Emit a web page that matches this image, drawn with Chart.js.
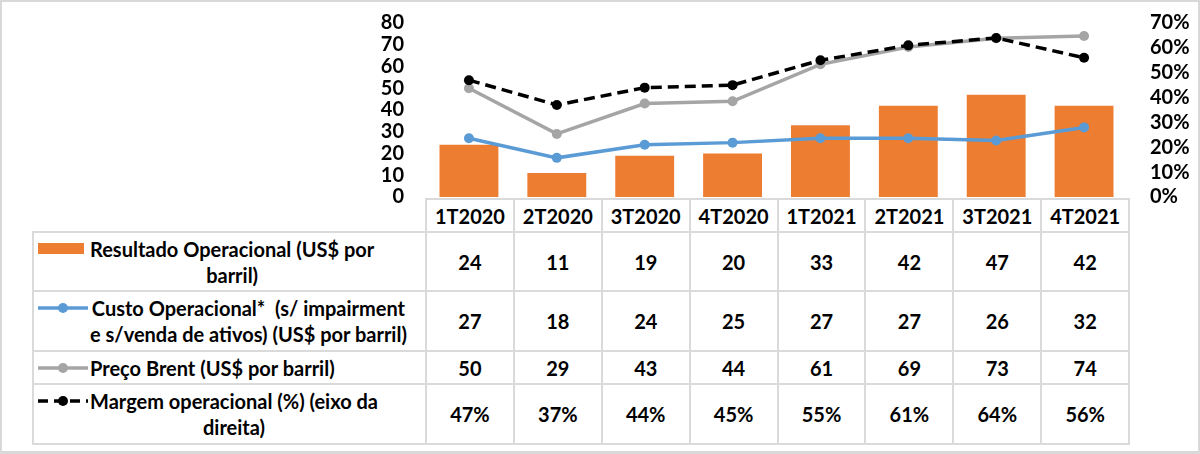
<!DOCTYPE html>
<html>
<head>
<meta charset="utf-8">
<script src="https://cdn.jsdelivr.net/npm/chart.js@4.4.1/dist/chart.umd.min.js"></script>
<style>
  body { margin: 0; background: #fff; }
  #frame { position: relative; width: 1200px; height: 454px; overflow: hidden; font-family: Lato, sans-serif; font-weight: bold; color: #000; }
  #frame::after { content: ""; position: absolute; left: 0; top: 0; right: 0; bottom: 0; border: 2px solid #d9d9d9; border-bottom-width: 3px; pointer-events: none; }
  #chart { position: absolute; left: 0; top: 0; }
  #data-table { position: absolute; left: 32px; top: 198px; border-collapse: collapse; table-layout: fixed; font-size: 20px; }
  #data-table td, #data-table th { border: 2px solid #dadada; text-align: center; padding: 0; }
  #data-table th.blank { border: none; }
  #data-table th { height: 31px; font-weight: bold; font-size: 20px; }
  .label { display: flex; align-items: flex-start; padding-left: 4px !important; }
  .key { flex: 0 0 52px; height: 26px; display: flex; align-items: center; }
  .txt { display: inline-block; white-space: pre; line-height: 26px; text-align: center; }
</style>
</head>
<body>
<div id="frame">
  <table id="data-table"></table>
  <canvas id="chart" width="1200" height="454"></canvas>
</div>
<script>
"use strict"

// categories (quarters)
const quarters = ["1T2020", "2T2020", "3T2020", "4T2020", "1T2021", "2T2021", "3T2021", "4T2021"];

// series values
const resultado = [24, 11, 19, 20, 33, 42, 47, 42];
const custo = [27, 18, 24, 25, 27, 27, 26, 32];
const brent = [50, 29, 43, 44, 61, 69, 73, 74];
const margem = [0.47, 0.37, 0.44, 0.45, 0.55, 0.61, 0.64, 0.56];

// series names, as they wrap in the table
const seriesNames = [
  "Resultado Operacional (US$ por\nbarril)",
  "Custo Operacional*  (s/ impairment\ne s/venda de ativos) (US$ por barril)",
  "Preço Brent (US$ por barril)",
  "Margem operacional (%) (eixo da\ndireita)",
];

// axis ticks
const leftMax = 80;
const leftStep = 10;
const rightMax = 0.7;
const rightStep = 0.1;

const colors = ["#ED7D31", "#5B9BD5", "#A5A5A5", "#000000"];
const rowHeights = [59, 60, 33, 60];

function pct(v) {
  return Math.round(v * 100) + "%";
}

// little legend keys for the table
function keySvg(i) {
  if (i === 0) {
    return '<svg width="48" height="12"><rect x="0" y="0" width="46" height="11" fill="' + colors[0] + '"/></svg>';
  }
  let line = '<line x1="0" y1="6" x2="50" y2="6" stroke="' + colors[i] + '" stroke-width="3.5"/>';
  if (i === 3) {
    line = '<line x1="0" y1="6" x2="50" y2="6" stroke="#000" stroke-width="3.5" stroke-dasharray="10,6"/>';
  }
  return '<svg width="52" height="12">' + line + '<circle cx="25" cy="6" r="5" fill="' + colors[i] + '"/></svg>';
}

function renderTable() {
  const table = document.getElementById("data-table");
  const allValues = [resultado, custo, brent, margem];

  let html = '<colgroup><col style="width:393px">';
  for (let i = 0; i < quarters.length; i++) {
    html += '<col style="width:87.9px">';
  }
  html += '</colgroup><tr><th class="blank"></th>';
  for (let i = 0; i < quarters.length; i++) {
    html += "<th>" + quarters[i] + "</th>";
  }
  html += "</tr>";

  for (let r = 0; r < allValues.length; r++) {
    html += '<tr style="height:' + rowHeights[r] + 'px"><td><div class="label"><span class="key">' + keySvg(r) +
      '</span><span class="txt"></span></div></td>';
    for (let c = 0; c < quarters.length; c++) {
      const v = allValues[r][c];
      html += "<td>" + (r === 3 ? pct(v) : v) + "</td>";
    }
    html += "</tr>";
  }
  table.innerHTML = html;

  const txts = table.querySelectorAll(".txt");
  for (let i = 0; i < txts.length; i++) {
    txts[i].textContent = seriesNames[i];
  }
}

renderTable();

const tickFont = { family: "Lato", size: 20, weight: "bold" };

// fixed axis widths, and no extra top/bottom padding from the tick labels
function fitAxis(width) {
  return function(axis) {
    axis.width = width;
    axis.paddingTop = 0;
    axis.paddingBottom = 0;
  };
}

new Chart(document.getElementById("chart"), {
  type: "bar",
  data: {
    labels: quarters,
    datasets: [
      {
        label: seriesNames[3],
        type: "line",
        data: margem,
        yAxisID: "y2",
        borderColor: colors[3],
        backgroundColor: colors[3],
        borderWidth: 3.5,
        borderDash: [11, 6],
        pointRadius: 5,
        pointBorderWidth: 0,
        tension: 0,
        order: 1,
      },
      {
        label: seriesNames[2],
        type: "line",
        data: brent,
        yAxisID: "y",
        borderColor: colors[2],
        backgroundColor: colors[2],
        borderWidth: 3.5,
        pointRadius: 5,
        pointBorderWidth: 0,
        tension: 0,
        order: 2,
      },
      {
        label: seriesNames[1],
        type: "line",
        data: custo,
        yAxisID: "y",
        borderColor: colors[1],
        backgroundColor: colors[1],
        borderWidth: 3.5,
        pointRadius: 5,
        pointBorderWidth: 0,
        tension: 0,
        order: 3,
      },
      {
        label: seriesNames[0],
        data: resultado,
        yAxisID: "y",
        backgroundColor: colors[0],
        barPercentage: 0.67,
        categoryPercentage: 1,
        order: 4,
      },
    ],
  },
  options: {
    responsive: false,
    animation: false,
    layout: { padding: { top: 23, bottom: 257, left: 0, right: 0 } },
    plugins: { legend: { display: false }, tooltip: { enabled: false } },
    scales: {
      x: { display: false, offset: true },
      y: {
        position: "left",
        min: 0,
        max: leftMax,
        grid: { display: false, drawTicks: false },
        border: { display: false },
        ticks: { stepSize: leftStep, autoSkip: false, color: "#000", font: tickFont, padding: 21 },
        afterFit: fitAxis(425),
      },
      y2: {
        position: "right",
        min: 0,
        max: rightMax,
        grid: { display: false, drawTicks: false },
        border: { display: false },
        ticks: { stepSize: rightStep, autoSkip: false, color: "#000", font: tickFont, padding: 22, callback: function(v) { return pct(v); } },
        afterFit: fitAxis(72),
      },
    },
  },
});
</script>
</body>
</html>
